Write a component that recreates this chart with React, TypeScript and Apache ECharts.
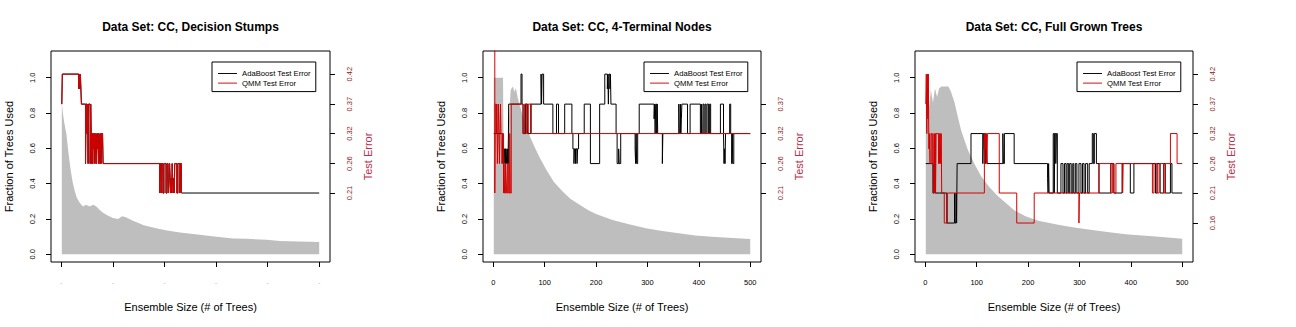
import React, { useEffect, useRef } from 'react';
import * as echarts from 'echarts';

const titles = ['Data Set: CC, Decision Stumps', 'Data Set: CC, 4-Terminal Nodes', 'Data Set: CC, Full Grown Trees'];
const legendNames = ['AdaBoost Test Error', 'QMM Test Error'];
const xTicks = [0, 100, 200, 300, 400, 500];
const leftTicks = [0, 0.2, 0.4, 0.6, 0.8, 1.0];
const rightTicks1 = [0.211, 0.263, 0.316, 0.368, 0.421];
const rightTicks2 = [0.211, 0.263, 0.316, 0.368];
const rightTicks3 = [0.158, 0.211, 0.263, 0.316, 0.368, 0.421];

// Fraction of trees used (grey area)
const gray1 = [[1, 0.86], [3, 0.8], [6, 0.74], [10, 0.68], [14, 0.57], [18, 0.48], [22, 0.41], [26, 0.36], [30, 0.32], [36, 0.29], [42, 0.27], [48, 0.28], [55, 0.27], [62, 0.28], [68, 0.27], [75, 0.25], [81, 0.235], [90, 0.22], [100, 0.205], [110, 0.2], [118, 0.215], [125, 0.21], [139, 0.19], [160, 0.165], [184, 0.148], [205, 0.135], [230, 0.123], [268, 0.11], [301, 0.1], [333, 0.09], [360, 0.088], [398, 0.082], [424, 0.075], [460, 0.072], [500, 0.07]];
const gray2 = [[1, 1.0], [19, 1.0], [20, 0.62], [24, 0.55], [28, 0.6], [31, 0.8], [34, 0.93], [38, 0.95], [41, 0.92], [44, 0.94], [48, 0.88], [52, 0.84], [60, 0.76], [71, 0.67], [80, 0.61], [90, 0.55], [103, 0.48], [118, 0.41], [135, 0.355], [150, 0.315], [168, 0.28], [185, 0.25], [200, 0.228], [232, 0.194], [264, 0.17], [297, 0.147], [329, 0.132], [361, 0.119], [393, 0.106], [426, 0.1], [458, 0.093], [500, 0.087]];
const gray3 = [[1, 0.84], [4, 0.9], [7, 0.82], [11, 0.93], [15, 0.86], [19, 0.94], [23, 0.89], [27, 0.94], [32, 0.95], [45, 0.95], [50, 0.92], [57, 0.86], [64, 0.77], [70, 0.7], [83, 0.59], [96, 0.51], [109, 0.44], [125, 0.38], [141, 0.33], [157, 0.29], [173, 0.25], [195, 0.215], [220, 0.19], [261, 0.166], [293, 0.15], [325, 0.138], [358, 0.125], [390, 0.113], [422, 0.106], [455, 0.1], [500, 0.088]];

// Test error change points [ensemble size, error]
const qmm1 = [[1, 0.368], [2, 0.421], [34, 0.395], [35, 0.421], [36, 0.395], [37, 0.421], [38, 0.395], [39, 0.368], [47, 0.263], [48, 0.368], [50, 0.316], [51, 0.368], [52, 0.263], [53, 0.368], [56, 0.263], [57, 0.368], [58, 0.316], [59, 0.263], [60, 0.316], [61, 0.263], [62, 0.316], [63, 0.289], [64, 0.316], [65, 0.263], [66, 0.316], [67, 0.289], [68, 0.263], [69, 0.316], [70, 0.289], [71, 0.316], [72, 0.263], [73, 0.316], [74, 0.289], [75, 0.263], [76, 0.316], [77, 0.263], [78, 0.316], [79, 0.289], [80, 0.316], [81, 0.263], [191, 0.211], [192, 0.263], [194, 0.211], [195, 0.263], [197, 0.211], [199, 0.263], [203, 0.211], [205, 0.263], [207, 0.237], [208, 0.211], [209, 0.237], [210, 0.263], [211, 0.237], [212, 0.211], [213, 0.237], [214, 0.211], [215, 0.263], [216, 0.237], [217, 0.211], [218, 0.237], [219, 0.211], [220, 0.263], [224, 0.211], [226, 0.263], [230, 0.211], [231, 0.263], [233, 0.211]];
const ada1 = [...qmm1, [500, 0.211]];

const ada2 = [[1, 0.316], [18, 0.289], [19, 0.263], [20, 0.289], [21, 0.263], [22, 0.289], [24, 0.263], [25, 0.289], [26, 0.263], [28, 0.289], [29, 0.263], [30, 0.368], [54, 0.421], [56, 0.368], [58, 0.316], [63, 0.368], [67, 0.316], [73, 0.368], [93, 0.421], [94, 0.368], [95, 0.421], [98, 0.368], [116, 0.316], [123, 0.368], [127, 0.316], [139, 0.368], [153, 0.316], [155, 0.289], [157, 0.263], [158, 0.289], [160, 0.263], [161, 0.289], [163, 0.263], [164, 0.289], [166, 0.316], [177, 0.368], [189, 0.263], [207, 0.368], [217, 0.421], [222, 0.395], [223, 0.421], [224, 0.368], [225, 0.421], [227, 0.395], [228, 0.421], [229, 0.368], [239, 0.316], [241, 0.263], [244, 0.289], [245, 0.263], [248, 0.316], [276, 0.289], [277, 0.263], [278, 0.316], [279, 0.263], [281, 0.316], [284, 0.368], [313, 0.342], [314, 0.368], [315, 0.316], [316, 0.368], [318, 0.316], [319, 0.368], [320, 0.316], [329, 0.263], [330, 0.316], [361, 0.368], [362, 0.316], [364, 0.368], [365, 0.316], [366, 0.342], [367, 0.368], [378, 0.316], [383, 0.368], [403, 0.316], [405, 0.368], [406, 0.316], [408, 0.368], [410, 0.316], [412, 0.368], [414, 0.316], [416, 0.368], [419, 0.316], [421, 0.368], [423, 0.316], [442, 0.368], [448, 0.316], [449, 0.263], [450, 0.289], [451, 0.263], [452, 0.316], [460, 0.368], [462, 0.316], [464, 0.263], [465, 0.316], [466, 0.263], [468, 0.316], [500, 0.316]];
const qmm2 = [[1, 0.474], [3, 0.211], [4, 0.368], [6, 0.316], [7, 0.368], [8, 0.263], [9, 0.316], [10, 0.368], [11, 0.316], [12, 0.263], [13, 0.316], [14, 0.368], [15, 0.316], [17, 0.263], [18, 0.316], [20, 0.211], [21, 0.263], [22, 0.211], [24, 0.263], [25, 0.237], [26, 0.211], [28, 0.263], [30, 0.211], [32, 0.316], [33, 0.211], [35, 0.368], [58, 0.316], [61, 0.368], [65, 0.316], [68, 0.368], [74, 0.316], [500, 0.316]];

const ada3 = [[1, 0.263], [15, 0.211], [17, 0.263], [19, 0.211], [42, 0.158], [57, 0.211], [58, 0.158], [60, 0.211], [61, 0.158], [62, 0.263], [89, 0.316], [112, 0.263], [113, 0.316], [115, 0.289], [116, 0.316], [117, 0.263], [118, 0.316], [119, 0.289], [120, 0.263], [151, 0.316], [152, 0.263], [154, 0.316], [173, 0.263], [238, 0.237], [239, 0.211], [240, 0.263], [241, 0.211], [249, 0.316], [251, 0.211], [252, 0.316], [254, 0.263], [255, 0.316], [257, 0.211], [264, 0.263], [268, 0.211], [271, 0.263], [274, 0.211], [276, 0.263], [279, 0.211], [281, 0.263], [284, 0.211], [287, 0.263], [289, 0.211], [292, 0.263], [295, 0.211], [299, 0.263], [303, 0.211], [306, 0.263], [309, 0.211], [312, 0.263], [316, 0.211], [319, 0.263], [325, 0.316], [327, 0.263], [329, 0.316], [333, 0.263], [338, 0.211], [361, 0.263], [367, 0.211], [383, 0.263], [399, 0.211], [406, 0.263], [448, 0.211], [451, 0.263], [457, 0.211], [464, 0.263], [467, 0.211], [477, 0.263], [480, 0.211], [500, 0.211]];
const qmm3 = [[1, 0.368], [2, 0.421], [3, 0.316], [4, 0.421], [5, 0.342], [6, 0.421], [7, 0.289], [8, 0.316], [9, 0.263], [11, 0.316], [13, 0.263], [15, 0.316], [16, 0.211], [18, 0.316], [20, 0.211], [21, 0.316], [26, 0.263], [27, 0.316], [28, 0.263], [29, 0.316], [30, 0.263], [31, 0.316], [32, 0.211], [37, 0.158], [43, 0.211], [115, 0.316], [116, 0.263], [117, 0.316], [118, 0.289], [119, 0.316], [120, 0.263], [121, 0.316], [144, 0.211], [178, 0.158], [212, 0.211], [299, 0.158], [300, 0.211], [338, 0.263], [361, 0.211], [364, 0.263], [367, 0.211], [371, 0.263], [384, 0.211], [385, 0.263], [442, 0.211], [445, 0.263], [451, 0.211], [455, 0.263], [464, 0.211], [467, 0.263], [477, 0.316], [490, 0.263], [500, 0.263]];

const FONT = '"Liberation Sans", Arial, Helvetica, sans-serif';

export default function App() {
  const ref = useRef<HTMLDivElement>(null);
  useEffect(() => {
    if (!ref.current) return;
    const chart = echarts.init(ref.current, undefined, { renderer: 'svg' });
    const panels = [
      { left: 51, width: 279, legendLeft: 212, gray: gray1, ada: ada1, qmm: qmm1, rTicks: rightTicks1, hideX: true },
      { left: 483, width: 278, legendLeft: 644, gray: gray2, ada: ada2, qmm: qmm2, rTicks: rightTicks2, hideX: false },
      { left: 915, width: 278, legendLeft: 1077, gray: gray3, ada: ada3, qmm: qmm3, rTicks: rightTicks3, hideX: false },
    ];
    const top = 51, height = 211;
    const option: any = {
      animation: false,
      backgroundColor: '#fff',
      textStyle: { fontFamily: FONT },
      title: panels.map((p, i) => ({
        text: titles[i], left: p.left + p.width / 2, top: 21, textAlign: 'center', padding: 0,
        textStyle: { fontSize: 12, fontWeight: 'bold', color: '#000', fontFamily: FONT },
      })),
      legend: panels.map((p) => ({
        data: legendNames, orient: 'vertical', left: p.legendLeft, top: 62,
        padding: [7.5, 5, 4.5, 6], itemWidth: 19, itemHeight: 8, itemGap: 1.6,
        icon: 'path://M0 0H20V1H0Z',
        borderColor: '#000', borderWidth: 1, backgroundColor: '#fff', selectedMode: false,
        textStyle: { fontSize: 7.7, color: '#000', fontFamily: FONT },
      })),
      grid: panels.map((p) => ({ left: p.left, top, width: p.width, height, show: true, borderColor: '#000', borderWidth: 1, backgroundColor: 'transparent' })),
      xAxis: panels.map((p, i) => ({
        type: 'value', gridIndex: i, min: -19.96, max: 520.96,
        axisLine: { show: false, onZero: false }, splitLine: { show: false },
        axisTick: { show: true, length: 5, customValues: xTicks, lineStyle: { color: '#000' } },
        axisLabel: p.hideX
          ? { customValues: xTicks, formatter: () => '-', fontSize: 6, color: '#999', margin: 18, fontFamily: FONT }
          : { customValues: xTicks, fontSize: 7.5, color: '#000', margin: 16, fontFamily: FONT },
        name: 'Ensemble Size (# of Trees)', nameLocation: 'middle', nameGap: 39,
        nameTextStyle: { fontSize: 11, color: '#000', fontFamily: FONT },
      })),
      yAxis: panels.flatMap((p, i) => [
        {
          type: 'value', gridIndex: i, position: 'left', min: -0.0436, max: 1.151,
          axisLine: { show: false, onZero: false }, splitLine: { show: false },
          axisTick: { show: true, length: 5, customValues: leftTicks, lineStyle: { color: '#000' } },
          axisLabel: { customValues: leftTicks, rotate: 90, formatter: (v: number) => v.toFixed(1), fontSize: 7.5, color: '#000', margin: 15, fontFamily: FONT },
          name: 'Fraction of Trees Used', nameLocation: 'middle', nameGap: 37, nameRotate: 90,
          nameTextStyle: { fontSize: 11, color: '#000', fontFamily: FONT },
        },
        {
          type: 'value', gridIndex: i, position: 'right', min: 0.0892, max: 0.4618,
          axisLine: { show: false, onZero: false }, splitLine: { show: false },
          axisTick: { show: true, length: 5, customValues: p.rTicks, lineStyle: { color: '#000' } },
          axisLabel: { customValues: p.rTicks, rotate: 90, formatter: (v: number) => v.toFixed(2), fontSize: 7.5, color: '#8b1a1a', margin: 15.5, fontFamily: FONT },
          name: 'Test Error', nameLocation: 'middle', nameGap: 32.5, nameRotate: 90,
          nameTextStyle: { fontSize: 11, color: '#b8304a', fontFamily: FONT },
        },
      ]),
      series: panels.flatMap((p, i) => [
        {
          name: 'Fraction of Trees Used', type: 'line', xAxisIndex: i, yAxisIndex: 2 * i, data: p.gray,
          symbol: 'none', silent: true, z: 1, lineStyle: { width: 0, opacity: 0 },
          areaStyle: { color: '#bebebe', opacity: 1 }, itemStyle: { color: '#bebebe' },
        },
        {
          name: legendNames[0], type: 'line', xAxisIndex: i, yAxisIndex: 2 * i + 1, data: p.ada, step: 'end',
          symbol: 'none', z: 2, color: '#000', lineStyle: { width: 1, color: '#000' }, itemStyle: { color: '#000' },
        },
        {
          name: legendNames[1], type: 'line', xAxisIndex: i, yAxisIndex: 2 * i + 1, data: p.qmm, step: 'end',
          symbol: 'none', z: 3, color: '#d40000', lineStyle: { width: 1, color: '#d40000' }, itemStyle: { color: '#d40000' },
        },
      ]),
    };
    chart.setOption(option);
    return () => chart.dispose();
  }, []);
  return <div ref={ref} style={{ position: 'fixed', left: 0, top: 0, width: 1296, height: 327, background: '#fff' }} />;
}
